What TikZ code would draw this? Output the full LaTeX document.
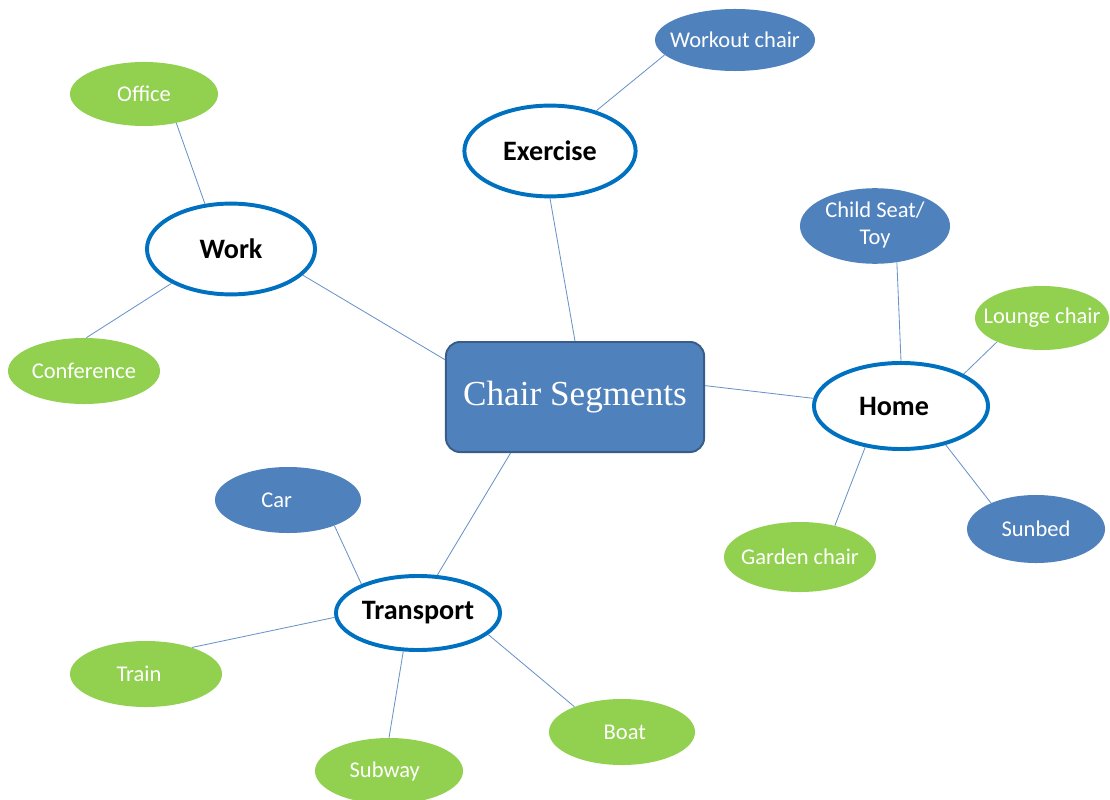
\documentclass[tikz,border=0pt]{standalone}
\usepackage{fontspec}
\setmainfont{Carlito}
\newfontfamily\titlefont{Liberation Serif}
\usetikzlibrary{shapes.geometric}
\definecolor{segblue}{HTML}{4F81BD}
\definecolor{segedge}{HTML}{385D8A}
\definecolor{seggreen}{HTML}{92D050}
\definecolor{ringblue}{HTML}{0070C0}
\newcommand{\lbl}[1]{\makebox[0pt]{#1}}

\begin{document}
\begin{tikzpicture}[x=0.025cm,y=-0.025cm,
  hubbox/.style={rectangle, rounded corners=0.35cm, fill=segblue, draw=segedge, line width=1.4pt, text=white, minimum width=6.45cm, minimum height=2.75cm, font=\titlefont\fontsize{25}{30}\selectfont},
  topic/.style={ellipse, draw=ringblue, line width=2.8pt, fill=white, inner sep=0pt, font=\fontsize{20}{24}\selectfont\bfseries},
  leafblue/.style={ellipse, fill=segblue, text=white, inner sep=0pt, font=\fontsize{16}{19}\selectfont},
  leafgreen/.style={ellipse, fill=seggreen, text=white, inner sep=0pt, font=\fontsize{16}{19}\selectfont},
  link/.style={draw=segblue!85, line width=0.6pt}]
\useasboundingbox (0,0) rectangle (1110,800);

\node[hubbox] (hub) at (575,397) {\raisebox{2pt}{Chair Segments}};

\node[topic, minimum width=4.28cm, minimum height=2.27cm] (exercise) at (550,151) {\lbl{Exercise}};
\node[topic, minimum width=4.2cm, minimum height=2.27cm] (work) at (231,249) {\lbl{Work}};
\node[topic, minimum width=4.35cm, minimum height=2.15cm] (home) at (901,406) {\lbl{\hspace{-10pt}Home}};
\node[topic, minimum width=4.1cm, minimum height=1.85cm] (transport) at (418,613) {\lbl{Transport}};

\node[leafblue, minimum width=4cm, minimum height=1.55cm] (workout) at (735,40) {\lbl{Workout chair}};
\node[leafgreen, minimum width=3.7cm, minimum height=1.6cm] (office) at (144,94) {\lbl{Office}};
\node[leafgreen, minimum width=3.8cm, minimum height=1.65cm] (conference) at (84,371) {\lbl{Conference}};
\node[leafblue, minimum width=3.75cm, minimum height=1.65cm] (childseat) at (875,226) {\lbl{\begin{tabular}{@{}c@{}}Child Seat/\\Toy\end{tabular}}};
\node[leafgreen, minimum width=3.35cm, minimum height=1.6cm] (lounge) at (1042,318) {\lbl{Lounge chair}};
\node[leafblue, minimum width=3.45cm, minimum height=1.7cm] (sunbed) at (1036,529) {\lbl{Sunbed}};
\node[leafgreen, minimum width=3.8cm, minimum height=1.75cm] (garden) at (800,557) {\lbl{Garden chair}};
\node[leafblue, minimum width=3.65cm, minimum height=1.65cm] (car) at (288,500) {\lbl{\hspace{-16pt}Car}};
\node[leafgreen, minimum width=3.8cm, minimum height=1.65cm] (train) at (146,674) {\lbl{\hspace{-10pt}Train}};
\node[leafgreen, minimum width=3.7cm, minimum height=1.65cm] (subway) at (389,771) {\lbl{\hspace{-6pt}Subway}};
\node[leafgreen, minimum width=3.65cm, minimum height=1.65cm] (boat) at (622,732) {\lbl{\hspace{4pt}Boat}};

\draw[link] (work.-20) -- (hub.164);
\draw[link] (exercise.south) -- (hub.north);
\draw[link] (home.175) -- (hub.5);
\draw[link] (transport.63) -- (hub.-139);
\draw[link] (exercise.41) -- (workout.-168);
\draw[link] (work.120) -- (office.-42);
\draw[link] (work.-150) -- (conference.86);
\draw[link] (home.north) -- (childseat.-59);
\draw[link] (home.27) -- (lounge.-152);
\draw[link] (home.-41) -- (sunbed.150);
\draw[link] (home.-131) -- (garden.42);
\draw[link] (transport.153) -- (car.-29);
\draw[link] (transport.183) -- (train.30);
\draw[link] (transport.-111) -- (subway.north);
\draw[link] (transport.-17) -- (boat.152);
\end{tikzpicture}
\end{document}
